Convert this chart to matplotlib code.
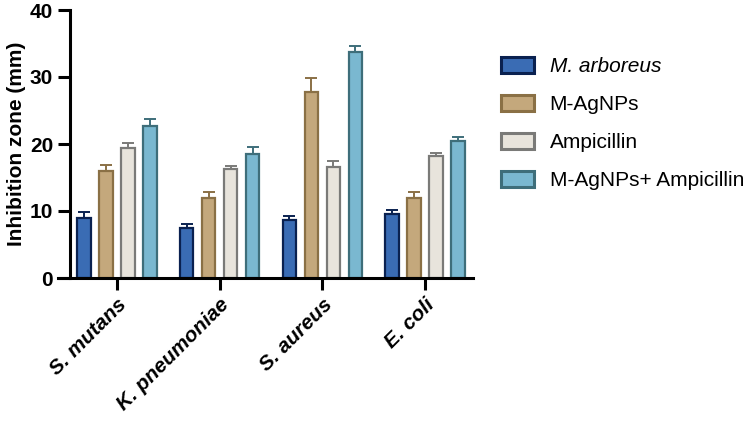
import numpy as np
import matplotlib
matplotlib.use("Agg")
import matplotlib.pyplot as plt
from matplotlib.patches import Patch

plt.rcParams['font.family'] = ['Liberation Sans', 'DejaVu Sans']

bacteria = ["S. mutans", "K. pneumoniae", "S. aureus", "E. coli"]
groups = ["M. arboreus", "M-AgNPs", "Ampicillin", "M-AgNPs+ Ampicillin"]
means = {
    "M. arboreus":         [9.0, 7.5, 8.7, 9.5],
    "M-AgNPs":             [16.0, 12.0, 27.7, 12.0],
    "Ampicillin":          [19.4, 16.2, 16.5, 18.2],
    "M-AgNPs+ Ampicillin": [22.7, 18.5, 33.7, 20.5],
}
errors = {
    "M. arboreus":         [0.8, 0.6, 0.5, 0.6],
    "M-AgNPs":             [0.8, 0.8, 2.1, 0.8],
    "Ampicillin":          [0.7, 0.5, 1.0, 0.5],
    "M-AgNPs+ Ampicillin": [1.0, 1.0, 1.0, 0.6],
}
face = ["#3a6cb4", "#c4a87c", "#e8e4dc", "#7ab8d0"]
edge = ["#0a2150", "#8a7045", "#7a7a78", "#3e6e7a"]

fig = plt.figure(figsize=(7.5, 4.21), dpi=100)
ax = fig.add_axes([58/750, 1-278/421, (473-58)/750, (278-10)/421])

x = np.arange(len(bacteria))
w = 0.13
step = 0.214
for i, g in enumerate(groups):
    pos = x + (i - 1.5) * step
    ax.bar(pos, means[g], width=w, color=face[i], edgecolor=edge[i], linewidth=1.6, zorder=2)
    ax.errorbar(pos, means[g], yerr=[np.zeros(4), errors[g]], fmt="none",
                ecolor=edge[i], elinewidth=1.4, capsize=4, capthick=1.4, zorder=3)

ax.set_xlim(-0.574, 3.466)
ax.set_ylim(0, 40)
ax.spines['top'].set_visible(False)
ax.spines['right'].set_visible(False)
ax.spines['left'].set_position(('data', -0.458))
for s in ['left', 'bottom']:
    ax.spines[s].set_linewidth(2.2)
ax.set_yticks([0, 10, 20, 30, 40])
ax.tick_params(axis='both', width=2.2, length=8.5, labelsize=15)
for lab in ax.get_yticklabels():
    lab.set_fontweight('bold')
ax.set_xticks(x)
ax.set_xticklabels(bacteria, rotation=45, ha='right', rotation_mode='anchor',
                   fontweight='bold', fontstyle='italic', fontsize=15)
ax.set_ylabel('Inhibition zone (mm)', fontsize=15, fontweight='bold', labelpad=3)

handles = [Patch(facecolor=face[i], edgecolor=edge[i], linewidth=2.2) for i in range(4)]
leg = fig.legend(handles, groups, loc='upper left', bbox_to_anchor=(482/750, 1-38/421),
                 frameon=False, fontsize=15, handlelength=1.6, handleheight=0.8,
                 labelspacing=0.9, handletextpad=0.75)
leg.get_texts()[0].set_fontstyle('italic')

fig.savefig("out.png", dpi=100)
